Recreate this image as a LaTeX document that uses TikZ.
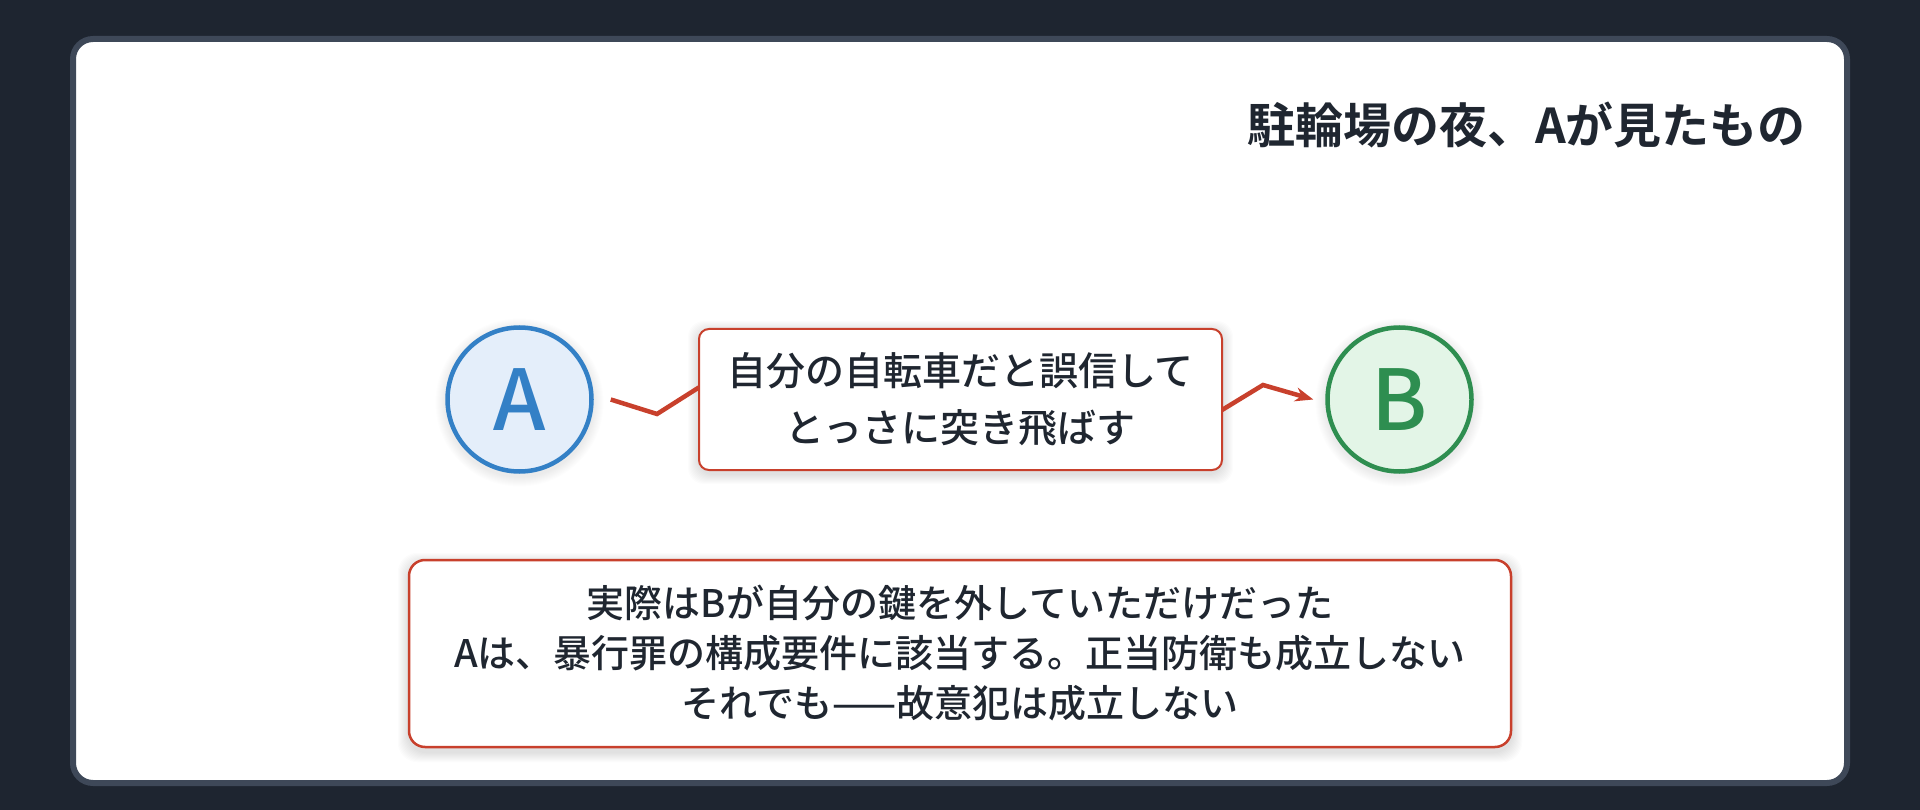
\documentclass[tikz,border=0pt]{standalone}
\usepackage{fontspec}
\setmainfont{Noto Sans CJK JP}
\newfontfamily\jpmed{Noto Sans CJK JP Medium}
\newfontfamily\jpbold{Noto Sans CJK JP Bold}
\usetikzlibrary{arrows.meta,calc}
\definecolor{bgdark}{HTML}{1E2530}
\definecolor{cardedge}{HTML}{3E4858}
\definecolor{ink}{HTML}{1F2630}
\definecolor{accred}{HTML}{C8402C}
\definecolor{ablue}{HTML}{3380C6}
\definecolor{afill}{HTML}{E4EEFA}
\definecolor{bgreen}{HTML}{2E8E50}
\definecolor{bfill}{HTML}{E3F5E7}
\pgfdeclarelayer{back}
\pgfdeclarelayer{shade}
\pgfsetlayers{back,shade,main}
\tikzset{
  persona/.style={circle, line width=4.5pt, minimum size=144pt, inner sep=0pt,
    font=\jpmed\fontsize{84}{84}\selectfont},
  notebox/.style={draw=accred, fill=white, align=center, text=ink, inner sep=0pt,
    font=\jpmed\fontsize{38}{50}\selectfont},
  link/.style={accred, line width=4.5pt, -{Stealth[length=18pt,width=14pt]}},
}
\begin{document}
\begin{tikzpicture}[x=1pt,y=-1pt]
\useasboundingbox (0,0) rectangle (1920,810);
\begin{pgfonlayer}{back}
  \fill[bgdark] (0,0) rectangle (1920,810);
  \draw[cardedge, line width=6pt, fill=white, rounded corners=20pt] (73,39) rectangle (1847,783);
\end{pgfonlayer}

\node[anchor=east, font=\jpbold\fontsize{48}{48}\selectfont, text=ink, inner sep=0pt] (title) at (1806,125) {駐輪場の夜、Aが見たもの};

\node[persona, draw=ablue, fill=afill, text=ablue] (A) at (519.5,399.5) {A};
\node[persona, draw=bgreen, fill=bfill, text=bgreen] (B) at (1399.5,399.5) {B};

\coordinate (s) at ($(A.east)+(17,0)$);
\coordinate (e) at ($(B.west)+(-12,0)$);
\draw[link] (s) -- (657,414) -- (698,388) -- (1222,410) -- (1263,385) -- (e);

\node[notebox, line width=2pt, rounded corners=10pt, minimum width=523pt, minimum height=141pt,
  font=\jpmed\fontsize{39}{57}\selectfont] (act) at (960.5,399.5) {自分の自転車だと誤信して\\とっさに突き飛ばす};

\node[notebox, line width=2.5pt, rounded corners=16pt, minimum width=1102pt, minimum height=187pt] (fact) at (960,653.5)
  {実際はBが自分の鍵を外していただけだった\\Aは、暴行罪の構成要件に該当する。正当防衛も成立しない\\それでも——故意犯は成立しない};

\begin{pgfonlayer}{shade}
  \foreach \i in {1,...,10} {
    \fill[black, opacity=0.011, rounded corners=16pt]
      ($(act.south west)+(-\i,\i+3)$) rectangle ($(act.north east)+(\i,-\i+3)$);
    \fill[black, opacity=0.011, rounded corners=20pt]
      ($(fact.south west)+(-\i,\i+4)$) rectangle ($(fact.north east)+(\i,-\i+4)$);
    \fill[black, opacity=0.009] ($(A.center)+(0,3)$) circle[radius=74+\i];
    \fill[black, opacity=0.009] ($(B.center)+(0,3)$) circle[radius=74+\i];
  }
\end{pgfonlayer}
\end{tikzpicture}
\end{document}
